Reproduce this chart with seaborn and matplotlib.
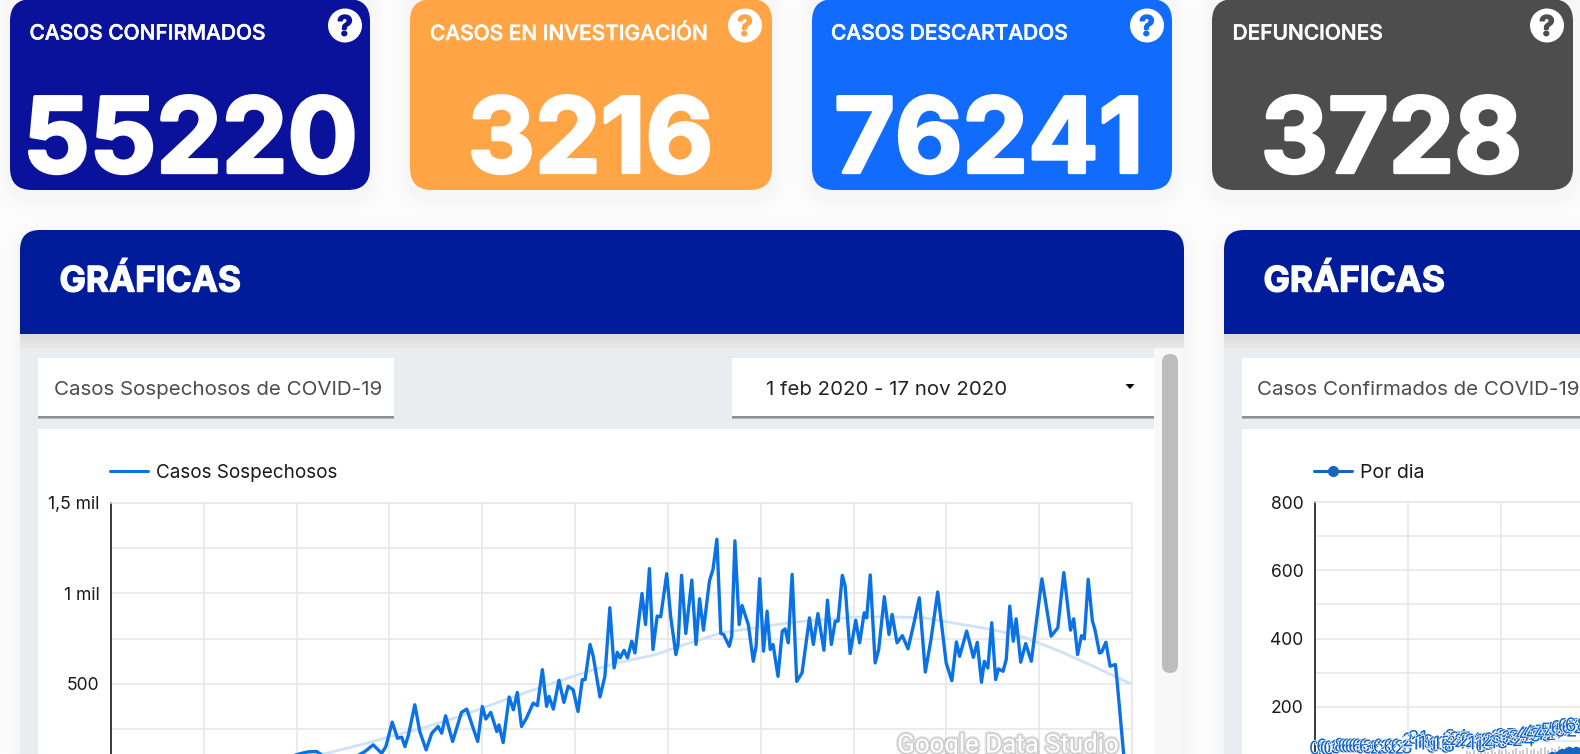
import matplotlib
matplotlib.use("Agg")
import matplotlib.pyplot as plt
import matplotlib.patheffects as pe
from matplotlib.patches import FancyBboxPatch, Rectangle, Polygon
import numpy as np
import pandas as pd
import seaborn as sns

W, H = 1580, 754

# Tarjetas
card_titles = ["CASOS CONFIRMADOS", "CASOS EN INVESTIGACIÓN", "CASOS DESCARTADOS", "DEFUNCIONES"]
card_values = ["55220", "3216", "76241", "3728"]
card_colors = ["#0a129b", "#ffa545", "#116bfd", "#4d4d4d"]

# Casos sospechosos, dia desde el 1 feb 2020
dias_sosp = [0, 15, 30, 45, 54.0, 55.8, 58.2, 59.6, 65.8, 71.9, 74.2, 76.6, 77.8, 79.6, 81.1, 82.3, 83.2, 84.2, 86.0,
             87.4, 89.2, 90.8, 92.6, 93.6, 94.7, 96.7, 99.2, 100.7, 103.8, 105.1, 106.1, 107.5, 109.2, 109.8,
             111.0, 112.7, 113.9, 115.0, 116.2, 117.6, 119.5, 120.7, 122.1, 123.3, 124.0, 125.2, 126.8, 128.2,
             129.4, 130.8, 132.2, 133.4, 134.2, 135.6, 136.5, 138.4, 139.8, 141.2, 142.4, 143.3, 144.1, 145.2,
             146.2, 147.4, 148.3, 150.3, 151.3, 152.4, 153.4, 154.6, 155.6, 157.3, 158.4, 159.9, 160.5, 161.5,
             162.7, 164.4, 165.6, 166.6, 167.7, 169.4, 170.4, 171.5, 172.6, 173.4, 175.0, 175.7, 176.6, 177.8,
             178.6, 180.4, 181.8, 182.6, 183.6, 184.7, 185.7, 186.6, 187.4, 188.8, 190.0, 190.8, 191.7, 192.8,
             194.1, 195.6, 197.7, 198.8, 200.1, 201.8, 202.8, 203.9, 205.0, 205.8, 207.0, 207.8, 209.2, 210.8,
             211.9, 213.2, 213.9, 214.9, 216.3, 217.3, 218.9, 220.2, 221.1, 222.5, 224.0, 225.6, 227.3, 228.8,
             230.5, 232.1, 234.0, 236.4, 238.0, 239.3, 240.2, 242.2, 244.1, 245.2, 246.4, 247.2, 248.2, 249.3,
             250.4, 251.2, 252.5, 253.4, 254.4, 255.4, 256.2, 257.5, 258.9, 260.5, 263.5, 266.1, 268.0, 269.7,
             271.6, 272.5, 273.6, 274.7, 275.5, 276.6, 277.8, 278.5, 279.8, 280.4, 281.6, 282.8, 284.3, 284.7,
             286.6, 287.3]
casos_sosp = [0, 5, 30, 70, 116, 124, 126, 107, 61, 126, 163, 116, 153, 288, 199, 205, 153, 218, 384,
              236, 135, 227, 264, 227, 323, 181, 342, 360, 181, 375, 305, 342, 236, 273,
              175, 427, 356, 452, 264, 310, 393, 379, 578, 375, 430, 360, 519, 397,
              486, 467, 347, 523, 523, 717, 652, 427, 541, 920, 587, 674, 643, 685,
              643, 735, 670, 999, 827, 1136, 689, 874, 870, 1108, 874, 661, 717, 1099,
              778, 1073, 717, 970, 796, 1068, 1132, 1298, 778, 772, 707, 763, 1289, 827,
              933, 827, 624, 707, 1080, 680, 901, 689, 717, 541, 790, 803, 726, 1104,
              513, 560, 864, 717, 888, 685, 962, 717, 846, 846, 1099, 1040, 667, 851,
              726, 892, 864, 1101, 615, 689, 981, 772, 883, 726, 766, 693, 837, 975,
              565, 744, 1007, 615, 517, 731, 652, 791, 646, 729, 508, 624, 587, 837,
              523, 582, 569, 634, 929, 735, 859, 619, 722, 624, 1080, 763, 809, 1114,
              796, 859, 661, 766, 748, 1077, 846, 800, 670, 674, 729, 597, 606, 532,
              116, 0]

# Tendencia
dias_tend = [50, 61, 72.4, 80.8, 87.5, 98.8, 112.9, 122.4, 133.7, 143.1, 153.6, 163.2, 172.8, 182.4, 191.9, 201.5,
             211.1, 220.6, 230.2, 239.8, 249.3, 258.9, 268.5, 278.0, 288.8]
casos_tend = [85, 116, 172, 218, 251, 320, 421, 486, 560, 615, 658, 722, 781, 809, 837, 855,
              868, 870, 864, 831, 800, 754, 680, 597, 499]

# Casos confirmados por dia
conf_dia = [0, 1, 6, 0, 0, 1, 3, 8, 6, 6, 6, 6, 6, 3, 6, 3, 1, 2, 6, 2, 3, 6, 2, 6, 2, 1, 3,
            21, 24, 31, 14, 19, 14, 5, 9, 13, 15, 5, 8, 27, 34, 27, 21, 17, 24, 21,
            14, 6, 13, 17, 23, 24, 18, 33, 37, 33, 30, 27, 32, 24, 42, 40, 47, 44, 38, 42, 47,
            53, 47, 55, 60, 52, 66, 62, 68]
dias_conf = list(range(len(conf_dia)))
barras_dias = list(range(42, 75))
barras_alto = [62, 70, 66, 72, 64, 70, 74, 68, 72, 66, 74, 70, 76, 68, 72, 78, 70, 74, 80, 72, 76, 70, 78,
               82, 74, 80, 76, 84, 78, 82, 86, 80, 84]

y_izq = [0, 250, 500, 750, 1000, 1250, 1500]
y_izq_labels = ["0", "", "500", "", "1 mil", "", "1,5 mil"]
y_der = [0, 100, 200, 300, 400, 500, 600, 700, 800]
y_der_labels = ["0", "", "200", "", "400", "", "600", "", "800"]

sns.set_theme(style="white")
plt.rcParams["font.family"] = ["Inter", "DejaVu Sans"]

fig = plt.figure(figsize=(W / 100, H / 100), dpi=100)
fig.patch.set_facecolor("#fdfdfd")

bg = fig.add_axes([0, 0, 1, 1], zorder=0)
bg.set_xlim(0, W)
bg.set_ylim(H, 0)
bg.axis("off")


def shadow(x0, y0, x1, y1, r=20, dy=8, z=1):
    # sombra suave hecha con capas
    for grow in [18, 14, 11, 8, 6, 4, 2]:
        bg.add_patch(FancyBboxPatch((x0 - grow, y0 - grow + dy), x1 - x0 + 2 * grow, y1 - y0 + 2 * grow,
                                    boxstyle=f"round,pad=0,rounding_size={r + grow}", fc="black", ec="none",
                                    alpha=0.005, zorder=z))


def round_box(x0, y0, x1, y1, color, r=20, z=2):
    bg.add_patch(FancyBboxPatch((x0, y0), x1 - x0, y1 - y0, boxstyle=f"round,pad=0,rounding_size={r}",
                                fc=color, ec="none", zorder=z))


def white_box(x0, y0, x1, y1, z=4):
    bg.add_patch(Rectangle((x0, y0 + 3), x1 - x0, y1 - y0, fc="#b5b5b5", ec="none", zorder=z))
    bg.add_patch(Rectangle((x0, y0 + 1.5), x1 - x0, y1 - y0, fc="#8f8f8f", ec="none", zorder=z + 0.05))
    bg.add_patch(Rectangle((x0, y0), x1 - x0, y1 - y0, fc="white", ec="none", zorder=z + 0.1))


# Tarjetas de arriba
card_left = [10, 410, 812, 1212]
card_right = [370, 772, 1172, 1573]
label_x = [29.5, 430, 831, 1232.5]
num_x = [190.5, 590.5, 989, 1391.5]
for i in range(4):
    shadow(card_left[i], -20, card_right[i], 190, r=22)
    round_box(card_left[i], -1, card_right[i], 190, card_colors[i], r=22)
    bg.text(label_x[i], 33.5, card_titles[i], color="white", fontsize=15.05, fontweight="medium", va="center",
            zorder=5, path_effects=[pe.withStroke(linewidth=0.4, foreground="white")])
    bg.text(num_x[i], 134.5, card_values[i], color="white", fontsize=75, fontweight="bold", ha="center",
            va="center_baseline", zorder=5, path_effects=[pe.withStroke(linewidth=2.4, foreground="white")])
    cx = card_left[i] + 335
    bg.add_patch(plt.Circle((cx, 25.5), 17, fc="white", ec="none", zorder=5))
    bg.text(cx, 25.5, "?", color=card_colors[i], fontsize=20, fontweight="bold", ha="center",
            va="center_baseline", zorder=6, path_effects=[pe.withStroke(linewidth=1, foreground=card_colors[i])])

# Paneles
for x0, x1, panel_x1 in [(20, 1184, 1154), (1224, 1640, 1640)]:
    shadow(x0, 230, x1, 760, r=20, dy=6)
    bg.add_patch(Rectangle((x0, 348), panel_x1 - x0, 420, fc="#e9edf0", ec="none", zorder=2))
    round_box(x0, 230, x1, 300, "#001c9a", r=20, z=3)
    bg.add_patch(Rectangle((x0, 260), x1 - x0, 74, fc="#001c9a", ec="none", zorder=3))
    # sombra de la cabecera sobre el panel
    for k, gris in enumerate(["#dcdcdc", "#dedede", "#e0e0e0", "#e2e2e2", "#e4e4e4", "#e6e6e6", "#e8e8e8"]):
        bg.add_patch(Rectangle((x0, 334 + 2 * k), x1 - x0, 2, fc=gris, ec="none", zorder=2.5))
    bg.text(x0 + 39.5, 278, "GRÁFICAS", color="white", fontsize=25.3, fontweight="bold", va="center_baseline",
            zorder=5, path_effects=[pe.withStroke(linewidth=1, foreground="white")])
    bg.add_patch(Rectangle((x0 + 17.7, 429), panel_x1 - x0 - 17.7, 340, fc="white", ec="none", zorder=3))

# Barra de scroll
bg.add_patch(Rectangle((1154, 348), 28, 420, fc="#f8f8f8", ec="none", zorder=2))
round_box(1162, 354, 1178, 673, "#bdbdbd", r=8, z=3)

white_box(37.7, 358, 394, 416)
bg.text(54, 388, "Casos Sospechosos de COVID-19", color="#4d4d4d", fontsize=14.8, va="center_baseline", zorder=5)
white_box(731.7, 358, 1154, 416)
bg.text(766, 388, "1 feb 2020 - 17 nov 2020", color="#222222", fontsize=14.7, va="center_baseline", zorder=5)
bg.add_patch(Polygon([[1125.5, 384], [1134.5, 384], [1130, 389]], fc="black", ec="none", zorder=5))
white_box(1241.7, 358, 1640, 416)
bg.text(1257, 388, "Casos Confirmados de COVID-19", color="#4d4d4d", fontsize=14.8, va="center_baseline",
        zorder=5)

# Leyendas
bg.plot([110, 148], [471, 471], color="#0b72e5", lw=2.2, zorder=5)
bg.text(155.5, 471, "Casos Sospechosos", color="#1a1a1a", fontsize=13.6, va="center_baseline", zorder=5)
bg.plot([1314, 1352], [471, 471], color="#1565c0", lw=2.2, zorder=5)
bg.plot([1333], [471], marker="o", color="#1565c0", ms=7, zorder=5)
bg.text(1360, 471, "Por dia", color="#1a1a1a", fontsize=14, va="center_baseline", zorder=5)


def chart_axes(x0, x1, y_top, y_zero):
    return fig.add_axes([x0 / W, (H - y_zero) / H, (x1 - x0) / W, (y_zero - y_top) / H], zorder=2)


def style_axes(ax, yticks, ylabels, xticks, ymax):
    ax.set_facecolor("none")
    ax.set_ylim(0, ymax)
    ax.set_yticks(yticks)
    ax.set_yticklabels(ylabels, fontsize=12.6, color="#1a1a1a")
    ax.set_xticks(xticks)
    ax.set_xticklabels([])
    ax.set_xlabel("")
    ax.set_ylabel("")
    ax.grid(True, color="#e6e6e6", lw=1.1)
    ax.set_axisbelow(True)
    ax.tick_params(length=0, pad=8.3)
    ax.spines["left"].set_color("#3a3a3a")
    ax.spines["left"].set_linewidth(1.4)
    for s in ["top", "right"]:
        ax.spines[s].set_color("#e6e6e6")
        ax.spines[s].set_linewidth(1.1)
    ax.spines["bottom"].set_visible(False)


# Grafica izquierda
ax1 = chart_axes(111, 1132, 502.7, 774.3)
sosp = pd.DataFrame({"dia": dias_sosp, "casos": casos_sosp})
tend = pd.DataFrame({"dia": dias_tend, "casos": casos_tend})
sns.lineplot(data=tend, x="dia", y="casos", color="#cfe2f8", lw=2, sort=False, ax=ax1, zorder=2)
sns.lineplot(data=sosp, x="dia", y="casos", color="#0b72e5", lw=2.4, sort=False, ax=ax1, zorder=3,
             solid_joinstyle="round")
ax1.set_xlim(0, 289)
style_axes(ax1, y_izq, y_izq_labels, np.linspace(0, 289, 12), 1500)

# Grafica derecha
ax2 = chart_axes(1315, 2336, 502.3, 774.8)
ax2.vlines(barras_dias, 0, barras_alto, color="#bdbdbd", lw=1.1, zorder=1)
conf = pd.DataFrame({"dia": dias_conf, "casos": conf_dia})
sns.lineplot(data=conf, x="dia", y="casos", color="#1565c0", lw=2, marker="o", markersize=8, markeredgewidth=0,
             sort=False, ax=ax2, zorder=3)
for d, v in zip(dias_conf, conf_dia):
    ax2.annotate(str(v), (d, v), xytext=(0, 18), textcoords="offset points", ha="center", va="center",
                 fontsize=13.5, color="#1565c0", zorder=4,
                 path_effects=[pe.withStroke(linewidth=1, foreground="white")])
ax2.set_xlim(0, 289)
style_axes(ax2, y_der, y_der_labels, np.linspace(0, 289, 12), 800)

# Marca de agua
fig.text(1008 / W, 1 - 743 / H, "Google Data Studio", color="white", fontsize=18.6, ha="center",
         va="center_baseline", family="Roboto", zorder=10,
         path_effects=[pe.withStroke(linewidth=4, foreground="#00000018"),
                       pe.withStroke(linewidth=2, foreground="#00000020")])

fig.savefig("out.png", dpi=100, facecolor=fig.get_facecolor())
